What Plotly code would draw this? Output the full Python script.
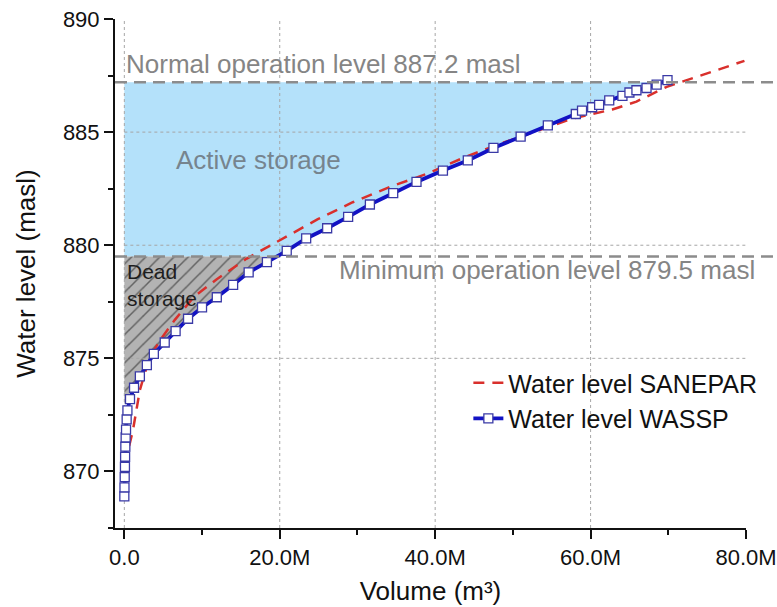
import numpy as np
import plotly.graph_objects as go

# ---- Data (volume in million m³, water level in masl) ----
wassp_volume = [0.0, 0.02, 0.05, 0.08, 0.1, 0.13, 0.17, 0.22, 0.3, 0.4,
                0.73, 1.25, 2.0, 2.9, 3.8, 5.2, 6.6, 8.2, 10.0, 11.9,
                14.0, 16.0, 18.35, 20.9, 23.4, 26.1, 28.8, 31.6, 34.6, 37.6,
                41.0, 44.2, 47.5, 51.0, 54.5, 58.1, 58.9, 60.2, 61.1, 62.4,
                64.1, 65.0, 65.9, 67.2, 68.5, 69.9]
wassp_level = [868.9, 869.3, 869.75, 870.2, 870.65, 871.1, 871.5, 871.85, 872.3, 872.7,
               873.2, 873.7, 874.2, 874.7, 875.2, 875.7, 876.2, 876.75, 877.25, 877.7,
               878.25, 878.8, 879.25, 879.75, 880.3, 880.75, 881.25, 881.8, 882.3, 882.8,
               883.3, 883.75, 884.3, 884.8, 885.3, 885.8, 885.95, 886.1, 886.2, 886.4,
               886.6, 886.75, 886.85, 886.95, 887.1, 887.3]

sanepar_volume = [0.3, 0.6, 1.1, 1.6, 2.0, 2.6, 3.3, 4.6, 6.5, 8.9,
                  11.9, 15.7, 20.4, 24.9, 29.4, 34.2, 38.9, 43.6, 48.3, 52.5,
                  57.7, 62.8, 65.9, 69.8, 72.4, 75.7, 79.8]
sanepar_level = [870.3, 871.1, 871.8, 872.8, 873.6, 874.3, 875.05, 875.8, 876.7, 877.7,
                 878.5, 879.4, 880.3, 881.15, 881.9, 882.58, 883.15, 883.86, 884.48, 884.98,
                 885.6, 886.0, 886.35, 887.0, 887.3, 887.7, 888.15]

normal_level = 887.2
minimum_level = 879.5
dead_floor_level = 873.0

x_tickvals = [0, 20, 40, 60, 80]
x_ticktext = ["0.0", "20.0M", "40.0M", "60.0M", "80.0M"]
y_tickvals = [870, 875, 880, 885, 890]
x_gridvals = [0, 20, 40, 60]
y_gridvals = [875, 880, 885]
x_range = [-1.2, 80]
y_range = [867.5, 890]

FONT = "Arial, 'Liberation Sans', sans-serif"

wv = np.array(wassp_volume)
wl = np.array(wassp_level)


def vol_at(level):
    return float(np.interp(level, wl, wv))


# Active storage polygon: between minimum and normal level, left of the curve
inside = (wl > minimum_level) & (wl < normal_level)
active_x = [0, 0, vol_at(normal_level)] + list(wv[inside][::-1]) + [vol_at(minimum_level)]
active_y = [minimum_level, normal_level, normal_level] + list(wl[inside][::-1]) + [minimum_level]

# Dead storage polygon: below the minimum level, left of the curve
below = (wl > dead_floor_level) & (wl < minimum_level)
dead_x = [0, 0, vol_at(dead_floor_level)] + list(wv[below]) + [vol_at(minimum_level)]
dead_y = [minimum_level, dead_floor_level, dead_floor_level] + list(wl[below]) + [minimum_level]

fig = go.Figure()

fig.add_trace(go.Scatter(
    x=active_x, y=active_y, fill="toself", mode="none",
    fillcolor="#b4e1fa", showlegend=False, hoverinfo="skip"))

fig.add_trace(go.Scatter(
    x=dead_x, y=dead_y, fill="toself", mode="none",
    fillcolor="#b3b3b3",
    fillpattern=dict(shape="/", bgcolor="#b3b3b3", fgcolor="#111111",
                     size=10, solidity=0.15),
    showlegend=False, hoverinfo="skip"))

# Dotted grid drawn over the storage fills
for gx in x_gridvals:
    fig.add_trace(go.Scatter(
        x=[gx, gx], y=y_range, mode="lines",
        line=dict(color="#a6a6a6", width=1, dash="3px,3px"),
        showlegend=False, hoverinfo="skip"))
for gy in y_gridvals:
    fig.add_trace(go.Scatter(
        x=[0, x_range[1]], y=[gy, gy], mode="lines",
        line=dict(color="#a6a6a6", width=1, dash="3px,3px"),
        showlegend=False, hoverinfo="skip"))

fig.add_trace(go.Scatter(
    x=sanepar_volume, y=sanepar_level, mode="lines",
    name="Water level SANEPAR",
    line=dict(color="#d9302c", width=2.5, dash="11px,8px")))

fig.add_trace(go.Scatter(
    x=wassp_volume, y=wassp_level, mode="lines+markers",
    name="Water level WASSP",
    line=dict(color="#1212c4", width=3.8),
    marker=dict(symbol="square", size=9, color="white",
                line=dict(color="#3a3aa6", width=1.3))))

# Operation levels, running past the right end of the axis
for lvl in (normal_level, minimum_level):
    fig.add_shape(type="line", xref="paper", yref="y",
                  x0=0, x1=1.05, y0=lvl, y1=lvl,
                  line=dict(color="#8c8c8c", width=2.5, dash="12px,7px"),
                  layer="above")

grey = "#858585"
fig.add_annotation(x=25.6, y=888.0, xref="x", yref="y",
                   text=f"Normal operation level {normal_level} masl",
                   showarrow=False, font=dict(family=FONT, size=26, color=grey))
fig.add_annotation(x=54.4, y=878.9, xref="x", yref="y",
                   text=f"Minimum operation level {minimum_level} masl",
                   showarrow=False, font=dict(family=FONT, size=26, color=grey))
fig.add_annotation(x=17.3, y=883.75, xref="x", yref="y",
                   text="Active storage",
                   showarrow=False, font=dict(family=FONT, size=26, color="#76848e"))
fig.add_annotation(x=0.1, y=878.25, xref="x", yref="y", xanchor="left",
                   text="Dead<br>storage", align="left",
                   showarrow=False, font=dict(family=FONT, size=21, color="#1e1e1e"))

fig.update_layout(
    width=777, height=607,
    margin=dict(l=115, r=31, t=19, b=79),
    paper_bgcolor="white", plot_bgcolor="white",
    font=dict(family=FONT, size=21, color="#1a1a1a"),
    showlegend=True,
    legend=dict(x=0.56, y=0.33, xanchor="left", yanchor="top",
                bgcolor="rgba(0,0,0,0)", font=dict(family=FONT, size=25, color="#111"),
                tracegroupgap=0, itemwidth=30),
)

fig.update_xaxes(
    range=x_range, showgrid=False, zeroline=False,
    showline=True, linecolor="#111", linewidth=2,
    tickmode="array", tickvals=x_tickvals, ticktext=x_ticktext,
    ticks="outside", ticklen=9, tickwidth=2, tickcolor="#111",
    minor=dict(tickvals=[10, 30, 50, 70], ticks="outside", ticklen=5,
               tickwidth=2, tickcolor="#111", showgrid=False),
    tickfont=dict(family=FONT, size=22, color="#111"),
    title=dict(text="Volume (m³)", font=dict(family=FONT, size=26, color="#111"), standoff=12),
    automargin=False,
)
fig.update_yaxes(
    range=y_range, showgrid=False, zeroline=False,
    showline=True, linecolor="#111", linewidth=2,
    tickmode="array", tickvals=y_tickvals,
    ticks="outside", ticklen=9, tickwidth=2, tickcolor="#111",
    minor=dict(tickvals=[867.5, 872.5, 877.5, 882.5, 887.5], ticks="outside", ticklen=5,
               tickwidth=2, tickcolor="#111", showgrid=False),
    tickfont=dict(family=FONT, size=22, color="#111"),
    title=dict(text="Water level (masl)", font=dict(family=FONT, size=26, color="#111"), standoff=20),
    automargin=False,
)

fig.write_html("out.html")
